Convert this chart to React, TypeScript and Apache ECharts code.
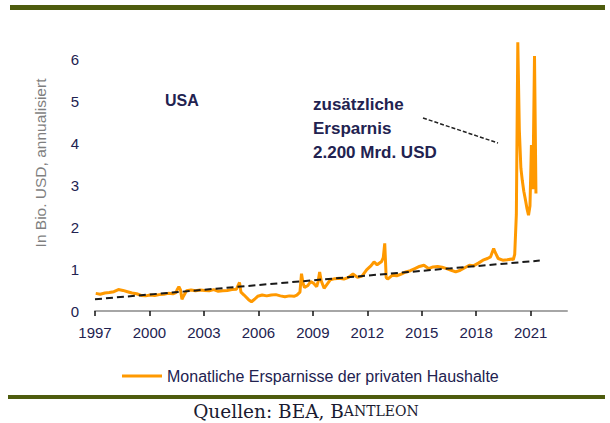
import React, { useEffect, useRef } from "react";
import * as echarts from "echarts";

const seriesName = "Monatliche Ersparnisse der privaten Haushalte";
const xTickYears = [1997, 2000, 2003, 2006, 2009, 2012, 2015, 2018, 2021];
const yTickValues = [0, 1, 2, 3, 4, 5, 6];

// decimal years (mid-month) and personal savings in trillions USD, annualised
const dates = [
  1997.04, 1997.29, 1997.54, 1997.79, 1998.04, 1998.29, 1998.54, 1998.79,
  1999.04, 1999.29, 1999.54, 1999.79, 2000.04, 2000.29, 2000.54, 2000.79,
  2001.04, 2001.29, 2001.46, 2001.54, 2001.62, 2001.71, 2001.79, 2001.88,
  2002.04, 2002.29, 2002.54, 2002.79, 2003.04, 2003.29, 2003.54, 2003.79,
  2004.04, 2004.29, 2004.54, 2004.79, 2004.96, 2005.04, 2005.21, 2005.46,
  2005.62, 2005.79, 2005.96, 2006.21, 2006.46, 2006.71, 2006.96, 2007.21,
  2007.46, 2007.71, 2007.96, 2008.12, 2008.29, 2008.375, 2008.46, 2008.54,
  2008.71, 2008.88, 2009.04, 2009.21, 2009.29, 2009.375, 2009.46, 2009.62,
  2009.79, 2009.96, 2010.21, 2010.46, 2010.71, 2010.96, 2011.21, 2011.46,
  2011.71, 2011.96, 2012.21, 2012.37, 2012.54, 2012.79, 2012.88, 2012.96,
  2013.04, 2013.12, 2013.37, 2013.62, 2013.87, 2014.12, 2014.37, 2014.62,
  2014.87, 2015.12, 2015.37, 2015.62, 2015.87, 2016.12, 2016.37, 2016.62,
  2016.87, 2017.12, 2017.37, 2017.62, 2017.87, 2018.12, 2018.37, 2018.62,
  2018.79, 2018.96, 2019.04, 2019.21, 2019.46, 2019.71, 2019.96, 2020.04,
  2020.12, 2020.21, 2020.29, 2020.375, 2020.46, 2020.54, 2020.62, 2020.71,
  2020.79, 2020.88, 2020.96, 2021.04, 2021.12, 2021.21, 2021.29,
];
const savings = [
  0.42, 0.4, 0.43, 0.44, 0.46, 0.51, 0.49, 0.46,
  0.43, 0.41, 0.37, 0.36, 0.38, 0.37, 0.39, 0.4,
  0.42, 0.41, 0.44, 0.52, 0.58, 0.5, 0.28, 0.36,
  0.48, 0.5, 0.48, 0.5, 0.49, 0.48, 0.51, 0.47,
  0.48, 0.49, 0.51, 0.52, 0.68, 0.45, 0.38, 0.27,
  0.22, 0.28, 0.35, 0.38, 0.36, 0.38, 0.39, 0.36,
  0.34, 0.36, 0.35, 0.38, 0.45, 0.89, 0.66, 0.56,
  0.6, 0.7, 0.66, 0.58, 0.7, 0.93, 0.72, 0.54,
  0.64, 0.74, 0.77, 0.78, 0.76, 0.8, 0.88, 0.8,
  0.83, 0.98, 1.08, 1.17, 1.1, 1.18, 1.27, 1.61,
  0.8, 0.76, 0.85, 0.84, 0.88, 0.93, 0.96, 1.01,
  1.06, 1.09, 1.01, 1.05, 1.06, 1.04, 1.01, 0.97,
  0.93, 0.97, 1.03, 1.09, 1.08, 1.14, 1.21, 1.25,
  1.29, 1.49, 1.4, 1.25, 1.21, 1.22, 1.24, 1.22,
  1.35, 2.3, 6.4, 4.3, 3.4, 3.1, 2.85, 2.65,
  2.45, 2.28, 2.5, 3.95, 2.9, 6.07, 2.8,
];

// linear trend (start / end)
const trendDates = [1997.0, 2021.5];
const trendValues = [0.28, 1.2];

const textColor = "#222250";

export default function App() {
  const ref = useRef<HTMLDivElement>(null);
  useEffect(() => {
    if (!ref.current) return;
    const chart = echarts.init(ref.current, null, { renderer: "svg" });
    chart.setOption({
      animation: false,
      backgroundColor: "#ffffff",
      textStyle: { fontFamily: "Liberation Sans" },
      grid: { left: 95, right: 43, top: 38, bottom: 112, containLabel: false },
      legend: {
        data: [seriesName],
        left: 117,
        top: 363,
        icon: "rect",
        itemWidth: 40,
        itemHeight: 3,
        textStyle: { fontSize: 16, color: textColor, fontFamily: "Liberation Sans" },
      },
      xAxis: {
        type: "value",
        min: 1997,
        max: 2023,
        interval: 3,
        splitLine: { show: false },
        axisLine: { show: true, lineStyle: { color: "#a6a6a6", width: 2 } },
        axisTick: {
          show: true,
          length: 5,
          customValues: xTickYears,
          lineStyle: { color: "#111111", width: 1.5 },
        },
        axisLabel: {
          customValues: xTickYears,
          formatter: (v: number) => String(v),
          margin: 14,
          fontSize: 15,
          color: textColor,
        },
      },
      yAxis: {
        type: "value",
        min: 0,
        max: 6.5,
        interval: 1,
        splitLine: { show: false },
        axisLine: { show: false },
        axisTick: { show: false },
        axisLabel: {
          customValues: yTickValues,
          margin: 16,
          fontSize: 15,
          color: textColor,
        },
      },
      series: [
        {
          name: seriesName,
          type: "line",
          data: dates.map((d, i) => [d, savings[i]]),
          showSymbol: false,
          symbol: "none",
          lineStyle: { color: "#ff9900", width: 3 },
          itemStyle: { color: "#ff9900" },
          z: 2,
        },
        {
          name: "Trend",
          type: "line",
          data: trendDates.map((d, i) => [d, trendValues[i]]),
          symbol: "none",
          lineStyle: { color: "#1a1a1a", width: 2, type: [7, 4] },
          itemStyle: { color: "#1a1a1a" },
          z: 3,
        },
      ],
      graphic: [
        { type: "rect", shape: { x: 10, y: 5, width: 595, height: 5 }, style: { fill: "#4e5c0e" } },
        { type: "rect", shape: { x: 8, y: 395, width: 597, height: 4 }, style: { fill: "#4e5c0e" } },
        {
          type: "text",
          x: 40,
          y: 163,
          rotation: Math.PI / 2,
          style: {
            text: "In Bio. USD, annualisiert",
            fontSize: 15.5,
            fontFamily: "Liberation Sans",
            fill: "#7f7f7f",
            textAlign: "center",
            textVerticalAlign: "middle",
          },
        },
        {
          type: "text",
          x: 165,
          y: 100,
          style: {
            text: "USA",
            fontSize: 16,
            fontWeight: "bold",
            fontFamily: "Liberation Sans",
            fill: textColor,
            textAlign: "left",
            textVerticalAlign: "middle",
          },
        },
        {
          type: "text",
          x: 313,
          y: 92,
          style: {
            text: "zusätzliche\nErsparnis\n2.200 Mrd. USD",
            fontSize: 17,
            lineHeight: 24,
            fontWeight: "bold",
            fontFamily: "Liberation Sans",
            fill: textColor,
            textAlign: "left",
            textVerticalAlign: "top",
          },
        },
        {
          type: "line",
          shape: { x1: 423, y1: 118, x2: 498, y2: 143 },
          style: { stroke: "#222222", lineWidth: 1.5, lineDash: [4, 2] },
        },
        {
          type: "text",
          x: 306,
          y: 411,
          style: {
            text: "{a|Quellen: BEA, B}{b|ANTLEON}",
            textAlign: "center",
            textVerticalAlign: "middle",
            rich: {
              a: { fontSize: 18.5, fontFamily: "DejaVu Serif", fill: "#1a1a30" },
              b: { fontSize: 14, fontFamily: "DejaVu Serif", fill: "#1a1a30" },
            },
          },
        },
      ],
    });
    return () => chart.dispose();
  }, []);
  return (
    <div
      ref={ref}
      style={{ position: "fixed", left: 0, top: 0, width: 610, height: 423 }}
    />
  );
}
